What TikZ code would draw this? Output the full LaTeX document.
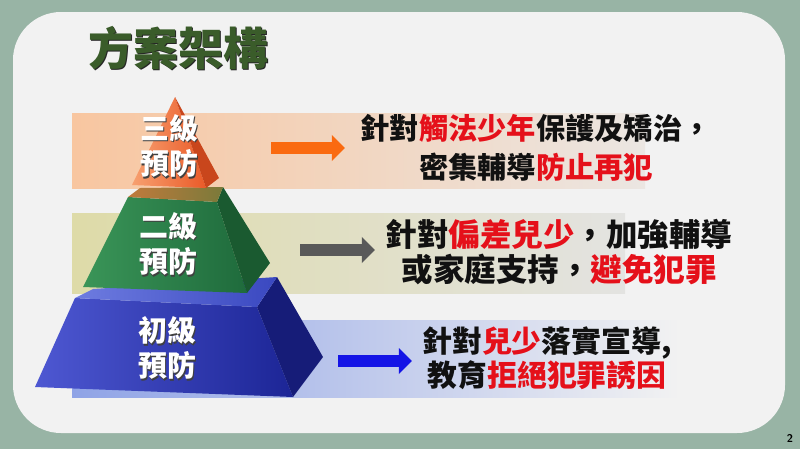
\documentclass[tikz,border=0pt]{standalone}
\usepackage{fontspec}
\newfontfamily\cjk{Noto Sans CJK TC Black}
\usetikzlibrary{arrows.meta}

\definecolor{slidebg}{HTML}{98B4A5}
\definecolor{panel}{HTML}{F2F2F2}
\definecolor{titlegreen}{HTML}{3A5C2A}
\definecolor{hired}{HTML}{E5101A}
\definecolor{txtblack}{HTML}{111111}
\definecolor{band1l}{HTML}{F8C6A0}
\definecolor{band1r}{HTML}{EBE6E2}
\definecolor{band2l}{HTML}{DEDBA8}
\definecolor{band2r}{HTML}{E3E3E1}
\definecolor{band3l}{HTML}{8FA3E6}
\definecolor{arrorange}{HTML}{FA6A10}
\definecolor{arrgrey}{HTML}{595959}
\definecolor{arrblue}{HTML}{1414E6}
% pyramid faces
\definecolor{blufrontl}{HTML}{4E58D2}
\definecolor{blufrontr}{HTML}{1C2596}
\definecolor{bluside}{HTML}{161C78}
\definecolor{blutopl}{HTML}{6E7CE0}
\definecolor{blutopr}{HTML}{3A48C0}
\definecolor{grnfrontl}{HTML}{3A9558}
\definecolor{grnfrontr}{HTML}{1F6B3C}
\definecolor{grnside}{HTML}{1A5A30}
\definecolor{grntopl}{HTML}{C07A3C}
\definecolor{grntopr}{HTML}{7A7A3A}
\definecolor{orgfrontl}{HTML}{F7A070}
\definecolor{orgfrontr}{HTML}{EA5A28}
\definecolor{orgside}{HTML}{C9461C}

\newcommand{\redtxt}[1]{\textcolor{hired}{#1}}

\tikzset{
	titletext/.style={text=titlegreen, font=\cjk\fontsize{32}{36}\selectfont},
	titleshadow/.style={text=black!85, font=\cjk\fontsize{32}{36}\selectfont},
	tiertext/.style={text=white, align=center, font=\cjk\fontsize{20.6}{25}\selectfont},
	tiershadow/.style={text=black!75, align=center, font=\cjk\fontsize{20.6}{25}\selectfont},
	bandtext/.style n args={2}{text=txtblack, align=center, font=\cjk\fontsize{#1}{#2}\selectfont},
	blockarrow/.style={line width=0.28cm, -{Triangle[length=0.33cm,width=0.63cm]}},
	pagenum/.style={font=\sffamily\bfseries\fontsize{8}{9}\selectfont}
}

\begin{document}
\begin{tikzpicture}[x=0.025cm, y=-0.025cm]
	% Slide background and panel
	\fill[slidebg] (0,0) rectangle (800,449);
	\useasboundingbox (0,0) rectangle (800,449);
	\fill[panel, rounded corners=1.2cm] (13,12) rectangle (785,433);
	
	% Title
	\node[titleshadow] at (179.5,49.5) {方案架構};
	\node[titletext] (title) at (178,48) {方案架構};
	
	% Bands behind the pyramid
	\shade[left color=band1l, right color=band1r] (72,113) rectangle (645,188);
	\shade[left color=band2l, right color=band2r] (72,213) rectangle (625,293);
	\shade[left color=band3l, right color=panel] (72,320) rectangle (680,397);
	
	% Bottom tier (blue)
	\shade[left color=blufrontl, right color=blufrontr]
	(35,387) -- (75,298) -- (257,307) -- (293,397) -- cycle;
	\fill[bluside] (257,307) -- (277,277) -- (323,357) -- (293,397) -- cycle;
	\shade[left color=blutopl, right color=blutopr]
	(75,298) -- (93,289) -- (277,277) -- (257,307) -- cycle;
	
	% Middle tier (green)
	\shade[left color=grnfrontl, right color=grnfrontr]
	(83,287) -- (128,197) -- (217,202) -- (247,293) -- cycle;
	\fill[grnside] (217,202) -- (223,187) -- (270,263) -- (247,293) -- cycle;
	\shade[left color=grntopl, right color=grntopr]
	(128,197) -- (140,188) -- (223,187) -- (217,202) -- cycle;
	
	% Top tier (orange)
	\shade[left color=orgfrontl, right color=orgfrontr]
	(175,97) -- (132,185) -- (206,188) -- cycle;
	\fill[orgside] (175,97) -- (206,188) -- (219,178) -- cycle;
	
	% Tier labels
	\foreach \n/\first/\x/\y in {3/三級/169/146, 2/二級/168/244, 1/初級/167/348} {
		\node[tiershadow] at (\x+1.5,\y+1.5) {\first\\預防};
		\node[tiertext] (tier\n) at (\x,\y) {\first\\預防};
	}
	
	% Arrows
	\coordinate (a3s) at (271,148);
	\coordinate (a3e) at (345,148);
	\coordinate (a2s) at (300,250);
	\coordinate (a2e) at (375,250);
	\coordinate (a1s) at (338,361);
	\coordinate (a1e) at (412,361);
	\draw[blockarrow, draw=arrorange, fill=arrorange] (a3s) -- (a3e);
	\draw[blockarrow, draw=arrgrey, fill=arrgrey] (a2s) -- (a2e);
	\draw[blockarrow, draw=arrblue, fill=arrblue] (a1s) -- (a1e);
	
	% Band texts
	\node[bandtext={20.8}{27.7}] (txt3) at (536,148) {針對\redtxt{觸法少年}保護及矯治，\\密集輔導\redtxt{防止再犯}};
	\node[bandtext={22.4}{24.9}] (txt2) at (559,252) {針對\redtxt{偏差兒少}，加強輔導\\或家庭支持，\redtxt{避免犯罪}};
	\node[bandtext={21.2}{22.8}] (txt1) at (547,358) {針對\redtxt{兒少}落實宣導,\\教育\redtxt{拒絕犯罪誘因}};
	
	% Page number
	\node[pagenum] (pg) at (790,438) {2};
\end{tikzpicture}
\end{document}
